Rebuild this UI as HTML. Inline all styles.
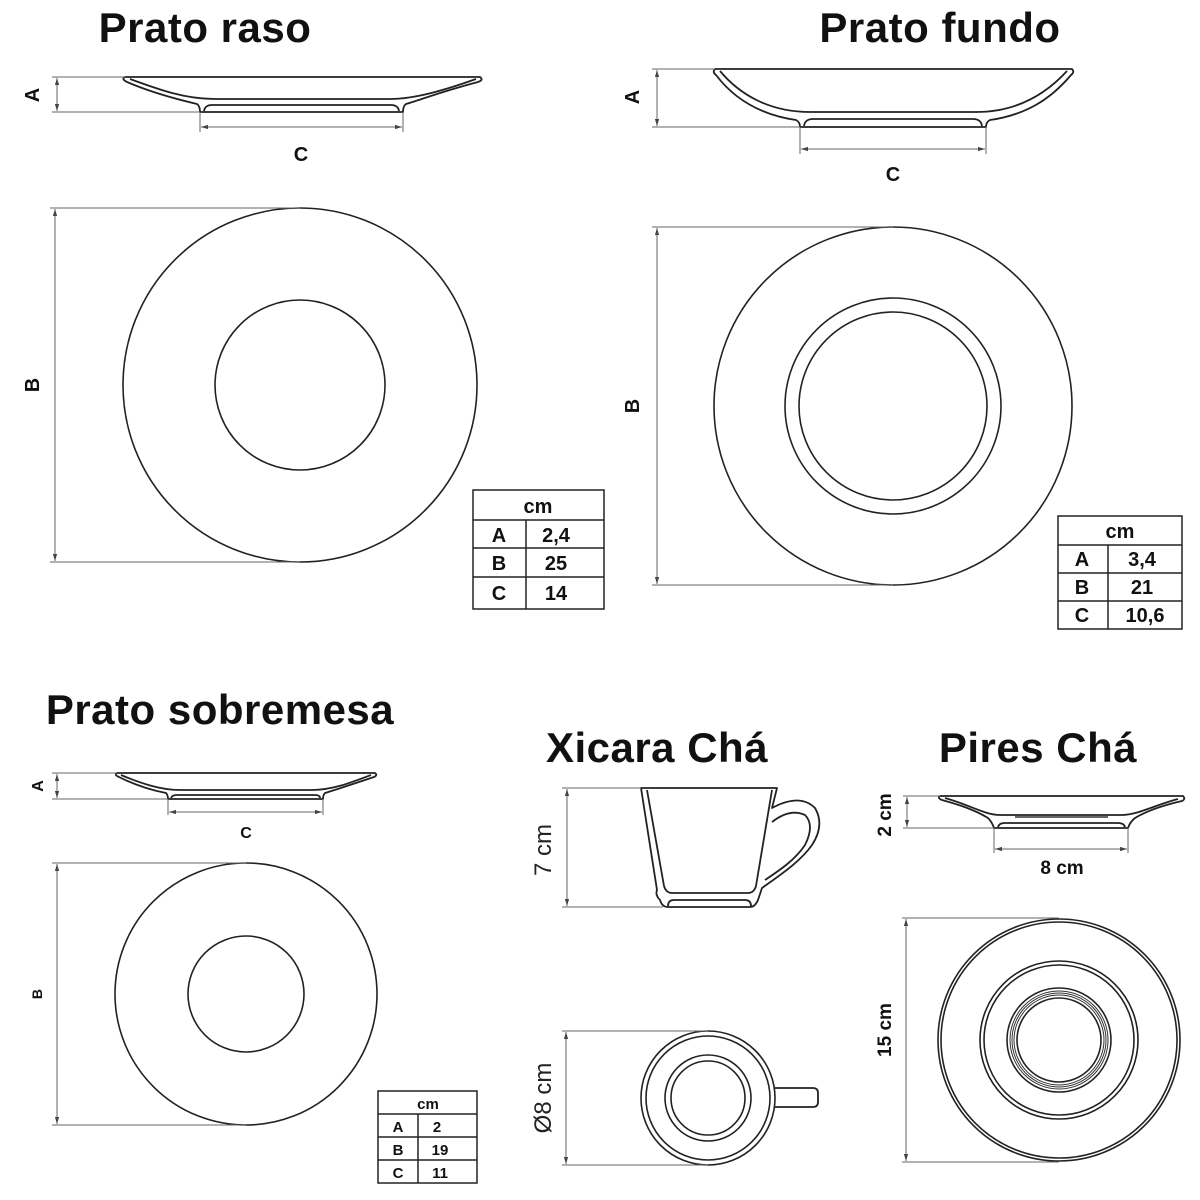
<!DOCTYPE html>
<html><head><meta charset="utf-8"><style>
html,body{margin:0;padding:0;background:#fff}
svg{display:block}
.t{font-family:"Liberation Sans",sans-serif;font-weight:bold;fill:#111}
.p{fill:none;stroke:#222;stroke-width:1.8;stroke-linejoin:round}
.d{stroke:#666;stroke-width:1;fill:none}
.c{fill:none;stroke:#222;stroke-width:1.6}
.tb{fill:none;stroke:#222;stroke-width:1.5}
</style></head><body>
<svg width="1200" height="1200" viewBox="0 0 1200 1200" xmlns="http://www.w3.org/2000/svg">
<defs>
<marker id="a" viewBox="0 0 10 10" refX="10" refY="5" markerWidth="7" markerHeight="7" orient="auto-start-reverse"><path d="M0,2 L10,5 L0,8 Z" fill="#444"/></marker>
</defs>

<!-- Titles -->
<text class="t" x="205" y="42" font-size="42" text-anchor="middle" letter-spacing="0.5">Prato raso</text>
<text class="t" x="940" y="42" font-size="42" text-anchor="middle" letter-spacing="0.5">Prato fundo</text>
<text class="t" x="220" y="724" font-size="42" text-anchor="middle" letter-spacing="0.5">Prato sobremesa</text>
<text class="t" x="657" y="762" font-size="42" text-anchor="middle" letter-spacing="0.5">Xicara Chá</text>
<text class="t" x="1038" y="762" font-size="42" text-anchor="middle" letter-spacing="0.5">Pires Chá</text>

<!-- ===== Prato raso ===== -->
<path class="p" d="M125,77 L480,77 Q484,80 478,82 C440,92 420,100 406,104 Q403,106 403,112 L200,112 Q200,106 197,104 C180,100 150,92 127,82 Q121,79 125,77 Z"/>
<path class="p" d="M130,79 C160,90 185,99 215,99 L390,99 C415,99 445,90 476,79"/>
<path class="p" d="M204,111 Q205,105 212,105 L391,105 Q398,105 399,111"/>
<line class="d" x1="52" y1="77" x2="125" y2="77"/>
<line class="d" x1="52" y1="112" x2="200" y2="112"/>
<line class="d" x1="57" y1="78" x2="57" y2="111" marker-start="url(#a)" marker-end="url(#a)"/>
<line class="d" x1="200" y1="112" x2="200" y2="132"/>
<line class="d" x1="403" y1="112" x2="403" y2="132"/>
<line class="d" x1="201" y1="127" x2="402" y2="127" marker-start="url(#a)" marker-end="url(#a)"/>
<text class="t" x="301" y="161" font-size="20" text-anchor="middle">C</text>
<text class="t" font-size="20" text-anchor="middle" transform="translate(39,95) rotate(-90)">A</text>
<circle class="c" cx="300" cy="385" r="177"/>
<circle class="c" cx="300" cy="385" r="85"/>
<line class="d" x1="50" y1="208" x2="300" y2="208"/>
<line class="d" x1="50" y1="562" x2="300" y2="562"/>
<line class="d" x1="55" y1="209" x2="55" y2="561" marker-start="url(#a)" marker-end="url(#a)"/>
<text class="t" font-size="20" text-anchor="middle" transform="translate(39,385) rotate(-90)">B</text>
<!-- table 1 -->
<rect class="tb" x="473" y="490" width="131" height="119"/>
<line class="tb" x1="473" y1="520" x2="604" y2="520"/>
<line class="tb" x1="473" y1="548" x2="604" y2="548"/>
<line class="tb" x1="473" y1="577" x2="604" y2="577"/>
<line class="tb" x1="526" y1="520" x2="526" y2="609"/>
<text class="t" x="538" y="513" font-size="20" text-anchor="middle">cm</text>
<text class="t" x="499" y="542" font-size="20" text-anchor="middle">A</text>
<text class="t" x="499" y="570" font-size="20" text-anchor="middle">B</text>
<text class="t" x="499" y="600" font-size="20" text-anchor="middle">C</text>
<text class="t" x="556" y="542" font-size="20" text-anchor="middle">2,4</text>
<text class="t" x="556" y="570" font-size="20" text-anchor="middle">25</text>
<text class="t" x="556" y="600" font-size="20" text-anchor="middle">14</text>

<!-- ===== Prato fundo ===== -->
<path class="p" d="M715,69 L1072,69 Q1075,72 1071,75 C1050,100 1025,115 990,120 Q986,122 986,127 L800,127 Q800,122 796,120 C762,115 735,100 716,75 Q712,72 715,69 Z"/>
<path class="p" d="M720,71 C740,95 770,112 810,112 L976,112 C1015,112 1045,95 1067,71"/>
<path class="p" d="M804,126 Q805,119 813,119 L973,119 Q981,119 982,126"/>
<line class="d" x1="652" y1="69" x2="715" y2="69"/>
<line class="d" x1="652" y1="127" x2="800" y2="127"/>
<line class="d" x1="657" y1="70" x2="657" y2="126" marker-start="url(#a)" marker-end="url(#a)"/>
<line class="d" x1="800" y1="127" x2="800" y2="154"/>
<line class="d" x1="986" y1="127" x2="986" y2="154"/>
<line class="d" x1="801" y1="149" x2="985" y2="149" marker-start="url(#a)" marker-end="url(#a)"/>
<text class="t" x="893" y="181" font-size="20" text-anchor="middle">C</text>
<text class="t" font-size="20" text-anchor="middle" transform="translate(639,97) rotate(-90)">A</text>
<circle class="c" cx="893" cy="406" r="179"/>
<circle class="c" cx="893" cy="406" r="108"/>
<circle class="c" cx="893" cy="406" r="94"/>
<line class="d" x1="652" y1="227" x2="893" y2="227"/>
<line class="d" x1="652" y1="585" x2="893" y2="585"/>
<line class="d" x1="657" y1="228" x2="657" y2="584" marker-start="url(#a)" marker-end="url(#a)"/>
<text class="t" font-size="20" text-anchor="middle" transform="translate(639,406) rotate(-90)">B</text>
<!-- table 2 -->
<rect class="tb" x="1058" y="516" width="124" height="113"/>
<line class="tb" x1="1058" y1="545" x2="1182" y2="545"/>
<line class="tb" x1="1058" y1="573" x2="1182" y2="573"/>
<line class="tb" x1="1058" y1="601" x2="1182" y2="601"/>
<line class="tb" x1="1108" y1="545" x2="1108" y2="629"/>
<text class="t" x="1120" y="538" font-size="20" text-anchor="middle">cm</text>
<text class="t" x="1082" y="566" font-size="20" text-anchor="middle">A</text>
<text class="t" x="1082" y="594" font-size="20" text-anchor="middle">B</text>
<text class="t" x="1082" y="622" font-size="20" text-anchor="middle">C</text>
<text class="t" x="1142" y="566" font-size="20" text-anchor="middle">3,4</text>
<text class="t" x="1142" y="594" font-size="20" text-anchor="middle">21</text>
<text class="t" x="1145" y="622" font-size="20" text-anchor="middle">10,6</text>

<!-- ===== Prato sobremesa ===== -->
<path class="p" d="M117,773 L375,773 Q378,775 374,777 C350,785 335,790 325,793 Q323,795 323,799 L168,799 Q168,795 166,793 C150,790 135,785 119,777 Q114,775 117,773 Z"/>
<path class="p" d="M121,775 C140,783 160,790 180,790 L312,790 C332,790 350,783 371,775"/>
<path class="p" d="M171,798 Q172,795 177,795 L315,795 Q320,795 320,798"/>
<line class="d" x1="52" y1="773" x2="117" y2="773"/>
<line class="d" x1="52" y1="799" x2="168" y2="799"/>
<line class="d" x1="57" y1="774" x2="57" y2="798" marker-start="url(#a)" marker-end="url(#a)"/>
<line class="d" x1="168" y1="799" x2="168" y2="815"/>
<line class="d" x1="323" y1="799" x2="323" y2="815"/>
<line class="d" x1="169" y1="812" x2="322" y2="812" marker-start="url(#a)" marker-end="url(#a)"/>
<text class="t" x="246" y="838" font-size="16" text-anchor="middle">C</text>
<text class="t" font-size="16" text-anchor="middle" transform="translate(43,786) rotate(-90)">A</text>
<circle class="c" cx="246" cy="994" r="131"/>
<circle class="c" cx="246" cy="994" r="58"/>
<line class="d" x1="52" y1="863" x2="246" y2="863"/>
<line class="d" x1="52" y1="1125" x2="246" y2="1125"/>
<line class="d" x1="57" y1="864" x2="57" y2="1124" marker-start="url(#a)" marker-end="url(#a)"/>
<text class="t" font-size="14" text-anchor="middle" transform="translate(42,994) rotate(-90)">B</text>
<!-- table 3 -->
<rect class="tb" x="378" y="1091" width="99" height="92"/>
<line class="tb" x1="378" y1="1114" x2="477" y2="1114"/>
<line class="tb" x1="378" y1="1137" x2="477" y2="1137"/>
<line class="tb" x1="378" y1="1160" x2="477" y2="1160"/>
<line class="tb" x1="418" y1="1114" x2="418" y2="1183"/>
<text class="t" x="428" y="1109" font-size="15" text-anchor="middle">cm</text>
<text class="t" x="398" y="1132" font-size="15" text-anchor="middle">A</text>
<text class="t" x="398" y="1155" font-size="15" text-anchor="middle">B</text>
<text class="t" x="398" y="1178" font-size="15" text-anchor="middle">C</text>
<text class="t" x="437" y="1132" font-size="15" text-anchor="middle">2</text>
<text class="t" x="440" y="1155" font-size="15" text-anchor="middle">19</text>
<text class="t" x="440" y="1178" font-size="15" text-anchor="middle">11</text>

<!-- ===== Xicara ===== -->
<path class="p" d="M641,788 L777,788 L772,808 Q800,793 815,808 Q825,825 812,845 C800,862 780,875 762,888 L758,900 Q755,907 750,907 L668,907 Q662,907 660,900 Q655,895 657,890 Z"/>
<path class="p" d="M647,790 L664,886 Q666,893 672,893 L748,893 Q754,893 756,886 L772,790"/>
<path class="p" d="M772,822 Q790,808 805,815 Q815,825 805,845 C795,860 780,870 765,880"/>
<path class="p" d="M668,906 Q668,900 674,900 L745,900 Q751,900 751,906"/>
<line class="d" x1="562" y1="788" x2="641" y2="788"/>
<line class="d" x1="562" y1="907" x2="663" y2="907"/>
<line class="d" x1="567" y1="789" x2="567" y2="906" marker-start="url(#a)" marker-end="url(#a)"/>
<text x="0" y="0" font-family="Liberation Sans,sans-serif" font-size="24" fill="#222" text-anchor="middle" transform="translate(551,850) rotate(-90)">7 cm</text>
<path class="p" d="M775,1088 L813,1088 Q818,1088 818,1093 L818,1102 Q818,1107 813,1107 L775,1107"/>
<circle class="c" cx="708" cy="1098" r="67" fill="#fff"/>
<circle class="c" cx="708" cy="1098" r="62"/>
<circle class="c" cx="708" cy="1098" r="43"/>
<circle class="c" cx="708" cy="1098" r="37"/>
<line class="d" x1="562" y1="1031" x2="708" y2="1031"/>
<line class="d" x1="562" y1="1165" x2="708" y2="1165"/>
<line class="d" x1="566" y1="1032" x2="566" y2="1164" marker-start="url(#a)" marker-end="url(#a)"/>
<text x="0" y="0" font-family="Liberation Sans,sans-serif" font-size="24" fill="#222" text-anchor="middle" transform="translate(551,1098) rotate(-90)">Ø8 cm</text>

<!-- ===== Pires ===== -->
<path class="p" d="M940,796 L1183,796 Q1186,799 1182,801 C1160,806 1145,812 1135,818 Q1130,822 1128,828 L994,828 Q992,822 988,818 C975,810 960,805 942,800 Q937,798 940,796 Z"/>
<path class="p" d="M945,798 C970,805 985,815 1000,815 L1122,815 C1137,815 1155,805 1178,799"/>
<path class="p" d="M998,827 Q999,823 1005,823 L1118,823 Q1124,823 1125,827"/>
<line x1="1015" y1="817" x2="1108" y2="817" stroke="#666" stroke-width="2"/>
<line class="d" x1="903" y1="796" x2="940" y2="796"/>
<line class="d" x1="903" y1="828" x2="994" y2="828"/>
<line class="d" x1="907" y1="797" x2="907" y2="827" marker-start="url(#a)" marker-end="url(#a)"/>
<line class="d" x1="994" y1="828" x2="994" y2="853"/>
<line class="d" x1="1128" y1="828" x2="1128" y2="853"/>
<line class="d" x1="995" y1="849" x2="1127" y2="849" marker-start="url(#a)" marker-end="url(#a)"/>
<text class="t" x="1062" y="874" font-size="19" text-anchor="middle">8 cm</text>
<text class="t" font-size="19" text-anchor="middle" transform="translate(891,815) rotate(-90)">2 cm</text>
<circle class="c" cx="1059" cy="1040" r="121"/>
<circle class="c" cx="1059" cy="1040" r="118"/>
<circle class="c" cx="1059" cy="1040" r="79"/>
<circle class="c" cx="1059" cy="1040" r="75"/>
<circle class="c" cx="1059" cy="1040" r="52"/>
<circle cx="1059" cy="1040" r="49" fill="none" stroke="#333" stroke-width="1"/>
<circle cx="1059" cy="1040" r="47" fill="none" stroke="#333" stroke-width="1"/>
<circle cx="1059" cy="1040" r="45" fill="none" stroke="#333" stroke-width="1"/>
<circle class="c" cx="1059" cy="1040" r="42"/>
<line class="d" x1="902" y1="918" x2="1059" y2="918"/>
<line class="d" x1="902" y1="1162" x2="1059" y2="1162"/>
<line class="d" x1="906" y1="919" x2="906" y2="1161" marker-start="url(#a)" marker-end="url(#a)"/>
<text class="t" font-size="19" text-anchor="middle" transform="translate(891,1030) rotate(-90)">15 cm</text>
</svg>
</body></html>
